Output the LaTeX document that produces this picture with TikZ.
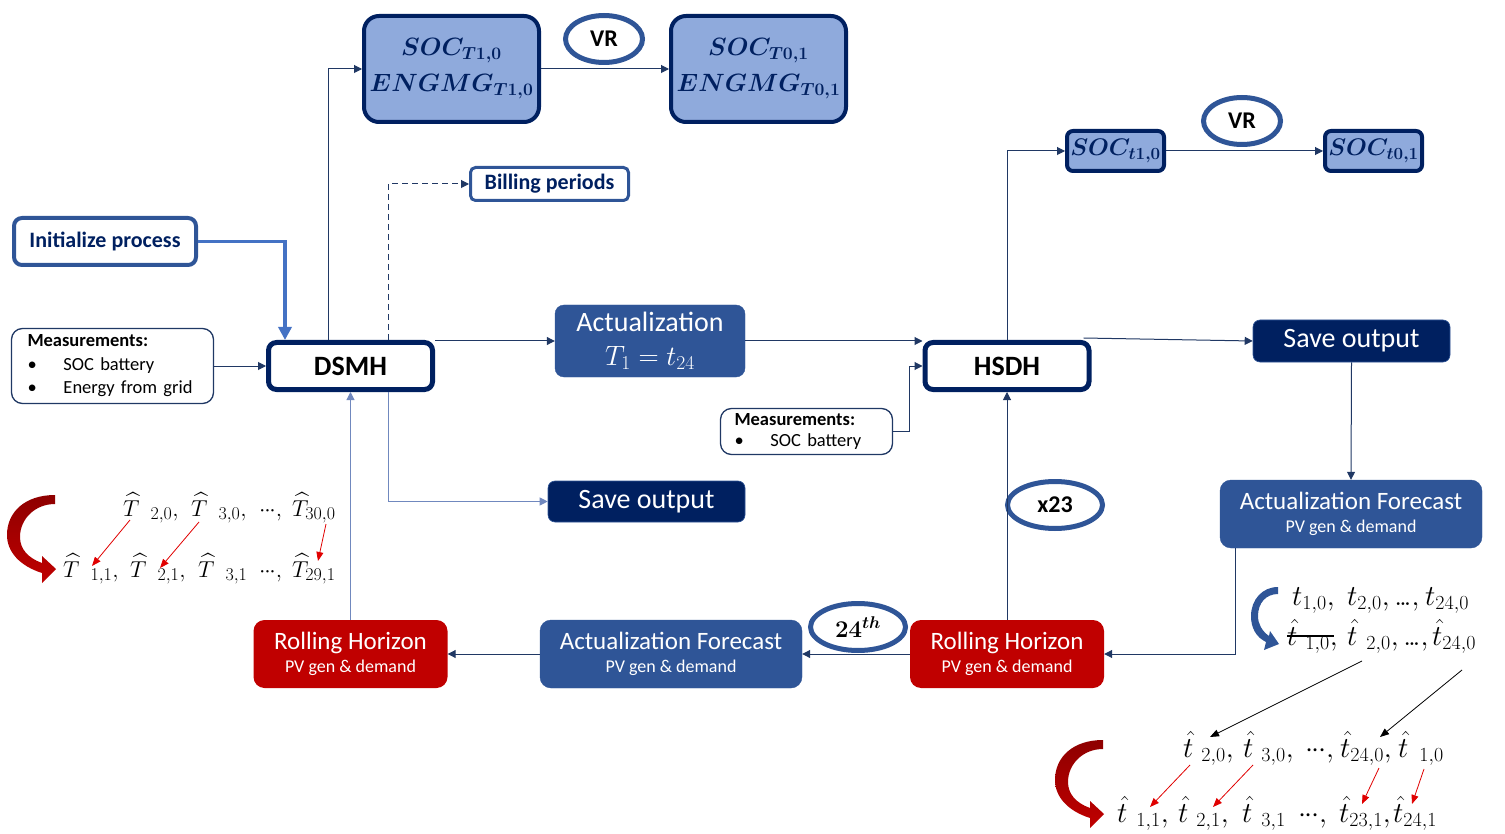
\RequirePackage{fix-cm}
\documentclass[tikz,border=0pt]{standalone}
\usepackage{amsmath}
\usepackage[no-math]{fontspec}
\setmainfont{Carlito}
\usetikzlibrary{arrows.meta,shapes.geometric,calc}
\DeclareMathSizes{29}{29}{20}{15}
\DeclareMathSizes{23}{23}{18}{14}
\DeclareMathSizes{24}{24}{17}{13}
\definecolor{navy}{HTML}{002060}
\definecolor{blueB}{HTML}{2F5597}
\definecolor{lightfill}{HTML}{8FAADC}
\definecolor{redC}{HTML}{C00000}
\definecolor{redD}{HTML}{8E0000}
\definecolor{initblue}{HTML}{4472C4}
\definecolor{lineC}{HTML}{203864}
\definecolor{lineL}{HTML}{7088BE}
\definecolor{arrred}{HTML}{E00000}
\newcommand\setfs[2]{\fontsize{#1}{#2}\selectfont}
\newcommand\lowdots{{.}\mkern-2mu{.}\mkern-2mu{.}}
\newcommand\middots{{\cdotp}\mkern-1mu{\cdotp}\mkern-1mu{\cdotp}}
\newcommand\term[2]{\makebox[#1pt][l]{#2}}
\begin{document}
\begin{tikzpicture}[x=1pt,y=-1pt,
  conn/.style={draw=lineC, line width=1pt, -{Triangle[length=8pt,width=8pt]}},
  connL/.style={draw=lineL, line width=1pt, -{Triangle[length=8pt,width=8pt]}},
  socbig/.style={draw=navy, line width=4pt, fill=lightfill, rounded corners=15pt, minimum width=175pt, minimum height=106pt, align=center, text=navy, font=\setfs{25}{36}, inner sep=0pt},
  socsmall/.style={draw=navy, line width=4pt, fill=lightfill, rounded corners=6pt, minimum width=97pt, minimum height=40pt, text=navy, font=\setfs{24}{28}, inner sep=0pt},
  oval/.style={ellipse, draw=blueB, line width=5pt, fill=white, minimum width=77pt, minimum height=47pt, inner sep=0pt, font=\bfseries\setfs{24}{28}},
  mainbox/.style={draw=navy, line width=5pt, fill=white, rounded corners=8pt, minimum width=164pt, minimum height=47pt, inner sep=0pt, font=\bfseries\setfs{28}{32}},
  outbox/.style={draw=blueB, fill=blueB, rounded corners=9pt, inner sep=0pt, text=white, align=center},
  savebox/.style={draw=blueB, line width=0.6pt, fill=navy, rounded corners=7pt, minimum width=197pt, inner sep=0pt, text=white, font=\setfs{28}{32}},
  rhbox/.style={fill=redC, rounded corners=11pt, minimum width=194pt, minimum height=68pt, inner sep=0pt, text=white, align=center, font=\setfs{18}{23}},
  afbox/.style={draw=blueB, fill=blueB, rounded corners=11pt, minimum width=262pt, minimum height=68pt, inner sep=0pt, text=white, align=center, font=\setfs{18}{23}},
  measbox/.style={draw=lineC, line width=1.3pt, rounded corners=11pt, align=left, inner ysep=4pt, text=black},
  lm/.style={anchor=base west, inner sep=0pt, font=\setfs{23}{24}},
  rm/.style={anchor=base west, inner sep=0pt, font=\setfs{29}{30}},
  redarr/.style={draw=arrred, line width=0.8pt, -{Triangle[length=9pt,width=7pt]}},
  blkarr/.style={draw=black, line width=0.8pt, -{Triangle[length=9pt,width=7pt]}},
  curvefill/.style={top color=redD, bottom color=redC}
]
\useasboundingbox (0,0) rectangle (1505,834);

% top boxes
\node[socbig] (socA) at (451.5,69) {$\boldsymbol{SOC_{T1,0}}$\\$\boldsymbol{ENGMG_{T1,0}}$};
\node[socbig] (socB) at (758.5,69) {$\boldsymbol{SOC_{T0,1}}$\\$\boldsymbol{ENGMG_{T0,1}}$};
\node[oval] (vr1) at (604,39) {VR};
\node[socsmall] (socC) at (1115.5,151) {$\boldsymbol{SOC_{t1,0}}$};
\node[socsmall] (socD) at (1373.5,151) {$\boldsymbol{SOC_{t0,1}}$};
\node[oval] (vr2) at (1242,121) {VR};

\node[draw=blueB, line width=3pt, rounded corners=5pt, minimum width=158pt, minimum height=33pt, inner sep=0pt, text=navy, font=\bfseries\setfs{22}{26}] (bill) at (549.5,184) {Billing periods};
\node[draw=blueB, line width=4pt, rounded corners=8pt, minimum width=182pt, minimum height=47pt, inner sep=0pt, text=navy, font=\bfseries\setfs{22}{26}] (init) at (105,241.5) {Initialize process};

\node[measbox, minimum width=202pt, minimum height=75pt, text width=170pt, inner xsep=16pt, font=\setfs{18.5}{23.5}] (meas1) at (112.5,366) {\textbf{Measurements:}\\\makebox[36pt][l]{\textbullet}SOC battery\\\makebox[36pt][l]{\textbullet}Energy from grid};
\node[measbox, minimum width=172pt, minimum height=46pt, text width=144pt, inner xsep=14pt, font=\setfs{18.5}{21}] (meas2) at (806.5,431.5) {\textbf{Measurements:}\\\makebox[36pt][l]{\textbullet}SOC battery};

\node[mainbox] (dsmh) at (350.5,366) {DSMH};
\node[mainbox] (hsdh) at (1007,366) {HSDH};

\node[outbox, minimum width=190pt, minimum height=72pt, font=\setfs{28}{34}] (act) at (650,341) {Actualization\\$T_1 = t_{24}$};
\node[savebox, minimum height=42pt] (save2) at (1351.5,341) {Save output};
\node[savebox, minimum height=41pt] (save1) at (646.5,501.5) {Save output};

\node[afbox] (afR) at (1351,514) {{\setfs{25}{25}Actualization Forecast}\\PV gen \& demand};
\node[afbox] (afM) at (671,654) {{\setfs{25}{25}Actualization Forecast}\\PV gen \& demand};
\node[rhbox] (rhR) at (1007,654) {{\setfs{25}{25}Rolling Horizon}\\PV gen \& demand};
\node[rhbox] (rhL) at (350.5,654) {{\setfs{25}{25}Rolling Horizon}\\PV gen \& demand};

\node[oval, minimum width=95pt] (x23) at (1055,505) {x23};
\node[oval, minimum width=95pt, font=\setfs{24}{28}] (e24) at (858,627) {$\boldsymbol{24^{th}}$};

% connectors
\draw[conn] ([xshift=-22.5pt]dsmh.north) |- (socA.west);
\draw[conn] (socA.east) -- (socB.west);
\draw[conn, dash pattern=on 6pt off 4pt] ([xshift=37.5pt]dsmh.north) |- (bill.west);
\draw[draw=initblue, line width=3.5pt, -{Triangle[length=13pt,width=13pt]}] (init.east) -| ([xshift=-65.5pt]dsmh.north);
\draw[conn] (meas1.east) -- (dsmh.west);
\draw[conn] (act.west -| dsmh.east) -- (act.west);
\draw[conn] (act.east) -- (act.east -| hsdh.west);
\draw[conn] (hsdh.north) |- (socC.west);
\draw[conn] (socC.east) -- (socD.west);
\draw[conn] ([xshift=-8pt,yshift=2pt]hsdh.north east) -- (save2.west);
\draw[conn] (save2.south) -- (afR.north);
\draw[conn] ([xshift=16pt]afR.south west) |- (rhR.east);
\draw[conn] (rhR.north) -- (hsdh.south);
\draw[conn] (rhR.west) -- (afM.east);
\draw[conn] (afM.west) -- (rhL.east);
\draw[connL] (rhL.north) -- (dsmh.south);
\draw[connL] ([xshift=37.5pt]dsmh.south) |- (save1.west);
\draw[conn] (meas2.east) -- ++(16,0) |- (hsdh.west);

% left annotation
\node[lm] (l1) at (123,516) {\term{68}{$\widehat{T}\hspace{11pt}{}_{2,0},$}\term{68}{$\widehat{T}\hspace{11pt}{}_{3,0},$}\term{33}{$\middots,$}$\widehat{T}_{30,0}$};
\node[lm] (l2) at (63,577) {\term{67}{$\widehat{T}\hspace{11pt}{}_{1,1},$}\term{68}{$\widehat{T}\hspace{11pt}{}_{2,1},$}\term{61}{$\widehat{T}\hspace{11pt}{}_{3,1}$}\term{33}{$\middots,$}$\widehat{T}_{29,1}$};
\coordinate (la1) at (130,520); \coordinate (la1e) at (92,566);
\coordinate (la2) at (199,522); \coordinate (la2e) at (160,568);
\coordinate (la3) at (326,524); \coordinate (la3e) at (318,561);
\draw[redarr] (la1) -- (la1e);
\draw[redarr] (la2) -- (la2e);
\draw[redarr] (la3) -- (la3e);

% right annotation
\node[rm] (r1) at (1292,605) {\term{55}{$t_{1,0},$}\term{78}{$t_{2,0},\lowdots,$}$t_{24,0}$};
\node[rm] (r2) at (1287,645) {\term{60}{$\hat{t}\hspace{8pt}{}_{1,0},$}\term{85}{$\hat{t}\hspace{9pt}{}_{2,0},\lowdots,$}$\hat{t}_{24,0}$};
\coordinate (st1) at ([yshift=9pt]r2.base west);
\coordinate (st2) at ([xshift=47pt,yshift=9pt]r2.base west);
\draw[line width=1.3pt] (st1) -- (st2);
\node[rm] (r3) at (1183,757) {\term{60}{$\hat{t}\hspace{8pt}{}_{2,0},$}\term{62}{$\hat{t}\hspace{8pt}{}_{3,0},$}\term{35}{$\middots,$}\term{58}{$\hat{t}_{24,0},$}$\hat{t}\hspace{11pt}{}_{1,0}$};
\node[rm] (r4) at (1117,822) {\term{61}{$\hat{t}\hspace{9pt}{}_{1,1},$}\term{64}{$\hat{t}\hspace{8pt}{}_{2,1},$}\term{56}{$\hat{t}\hspace{9pt}{}_{3,1}$}\term{41}{$\middots,$}\term{54}{$\hat{t}_{23,1},$}$\hat{t}_{24,1}$};
\coordinate (kb1) at (1362,661); \coordinate (kb1e) at (1210,737);
\coordinate (kb2) at (1462,670); \coordinate (kb2e) at (1380,737);
\draw[blkarr] (kb1) -- (kb1e);
\draw[blkarr] (kb2) -- (kb2e);
\coordinate (ra1) at (1190,765); \coordinate (ra1e) at (1150,807);
\coordinate (ra2) at (1253,765); \coordinate (ra2e) at (1213,807);
\coordinate (ra3) at (1379,768); \coordinate (ra3e) at (1362,804);
\coordinate (ra4) at (1424,769); \coordinate (ra4e) at (1412,804);
\draw[redarr] (ra1) -- (ra1e);
\draw[redarr] (ra2) -- (ra2e);
\draw[redarr] (ra3) -- (ra3e);
\draw[redarr] (ra4) -- (ra4e);

% curved block arrows
\foreach \dx/\dy in {0/0,1048/245}{
  \begin{scope}[shift={(\dx,\dy)}]
  \path[curvefill] (55,495) .. controls (25,495) and (7,512) .. (7,535) .. controls (7,552) and (20,566) .. (42,573) -- (42,583) -- (56,569) -- (42,556) -- (42,563) .. controls (28,558) and (20,549) .. (20,537) .. controls (20,519) and (35,504) .. (55,504) -- cycle;
  \end{scope}
}
\path[fill=blueB] (1278,587) .. controls (1262,587) and (1251,600) .. (1251,616) .. controls (1251,628) and (1256,637) .. (1266,642) -- (1264,650) -- (1279,644) -- (1270,631) -- (1269,636) .. controls (1262,631) and (1258,624) .. (1258,616) .. controls (1258,603) and (1266,594) .. (1278,594) -- cycle;
\end{tikzpicture}
\end{document}
